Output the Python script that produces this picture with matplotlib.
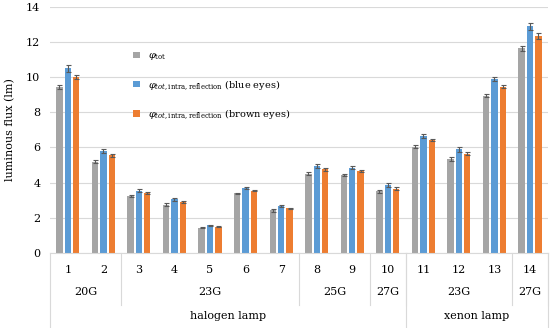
import numpy as np
import matplotlib
matplotlib.use('Agg')
import matplotlib.pyplot as plt
import matplotlib.transforms as mtransforms

# data
lamps = ['1', '2', '3', '4', '5', '6', '7', '8', '9', '10', '11', '12', '13', '14']
phi_tot = [9.45, 5.2, 3.25, 2.75, 1.42, 3.38, 2.42, 4.5, 4.42, 3.5, 6.05, 5.35, 8.95, 11.65]
phi_blue = [10.5, 5.8, 3.55, 3.05, 1.58, 3.7, 2.68, 4.95, 4.85, 3.85, 6.65, 5.9, 9.9, 12.9]
phi_brown = [10.0, 5.55, 3.4, 2.9, 1.5, 3.55, 2.55, 4.75, 4.65, 3.65, 6.42, 5.65, 9.45, 12.35]
err_tot = [0.12, 0.1, 0.05, 0.07, 0.03, 0.05, 0.08, 0.08, 0.05, 0.08, 0.07, 0.1, 0.08, 0.15]
err_blue = [0.18, 0.12, 0.08, 0.1, 0.03, 0.07, 0.06, 0.12, 0.1, 0.1, 0.1, 0.13, 0.13, 0.2]
err_brown = [0.12, 0.1, 0.07, 0.08, 0.03, 0.05, 0.03, 0.1, 0.06, 0.08, 0.07, 0.1, 0.08, 0.15]

# second level: power groups (label, first index, last index)
power_groups = [('20G', 0, 1), ('23G', 2, 6), ('25G', 7, 8), ('27G', 9, 9),
                ('23G', 10, 12), ('27G', 13, 13)]
# third level: lamp type
lamp_groups = [('halogen lamp', 0, 9), ('xenon lamp', 10, 13)]

plt.rcParams['font.family'] = ['DejaVu Serif']
plt.rcParams['mathtext.fontset'] = 'dejavuserif'

fig = plt.figure(figsize=(5.5, 3.28), dpi=100)
ax = fig.add_axes([0.091, 0.229, 0.905, 0.75])

x = np.arange(len(lamps))
w = 0.18
off = 0.235
ekw = dict(ecolor='#595959', elinewidth=0.8, capsize=1.8, capthick=0.8)
ax.bar(x - off, phi_tot, w, color='#A5A5A5', yerr=err_tot, error_kw=ekw, zorder=2,
       label=r'$\varphi_{\mathrm{tot}}$')
ax.bar(x, phi_blue, w, color='#5B9BD5', yerr=err_blue, error_kw=ekw, zorder=2,
       label=r'$\varphi_{tot,\mathrm{intra,reflection}}$ (blue eyes)')
ax.bar(x + off, phi_brown, w, color='#ED7D31', yerr=err_brown, error_kw=ekw, zorder=2,
       label=r'$\varphi_{tot,\mathrm{intra,reflection}}$ (brown eyes)')

ax.set_xlim(-0.5, len(lamps) - 0.5)
ax.set_ylim(0, 14)
ax.set_yticks(range(0, 15, 2))
ax.yaxis.grid(True, color='#D9D9D9', linewidth=0.8, zorder=0)
ax.set_axisbelow(True)
for s in ['top', 'right', 'left']:
    ax.spines[s].set_visible(False)
ax.spines['bottom'].set_color('#D9D9D9')
ax.tick_params(axis='y', length=0, labelsize=8, pad=7)
ax.set_xticks([])
ax.set_ylabel('luminous flux (lm)', fontsize=8, labelpad=8)

# multi-level category axis
trans = mtransforms.blended_transform_factory(ax.transData, ax.transAxes)
lc = '#D9D9D9'
for i, lab in enumerate(lamps):
    ax.text(i, -0.07, lab, transform=trans, ha='center', va='center', fontsize=8)
for lab, a, b in power_groups:
    ax.text((a + b) / 2, -0.16, lab, transform=trans, ha='center', va='center', fontsize=8)
    ax.plot([b + 0.5, b + 0.5], [0, -0.21], transform=trans, color=lc, lw=0.8, clip_on=False)
for lab, a, b in lamp_groups:
    ax.text((a + b) / 2, -0.255, lab, transform=trans, ha='center', va='center', fontsize=8)
    ax.plot([b + 0.5, b + 0.5], [0, -0.31], transform=trans, color=lc, lw=0.8, clip_on=False)
ax.plot([-0.5, -0.5], [0, -0.31], transform=trans, color=lc, lw=0.8, clip_on=False)

leg = ax.legend(loc='upper left', bbox_to_anchor=(0.15, 0.855), frameon=False, fontsize=7,
                handlelength=0.7, handleheight=0.7, labelspacing=1.6, handletextpad=0.8)

fig.savefig('out.png', dpi=100)
